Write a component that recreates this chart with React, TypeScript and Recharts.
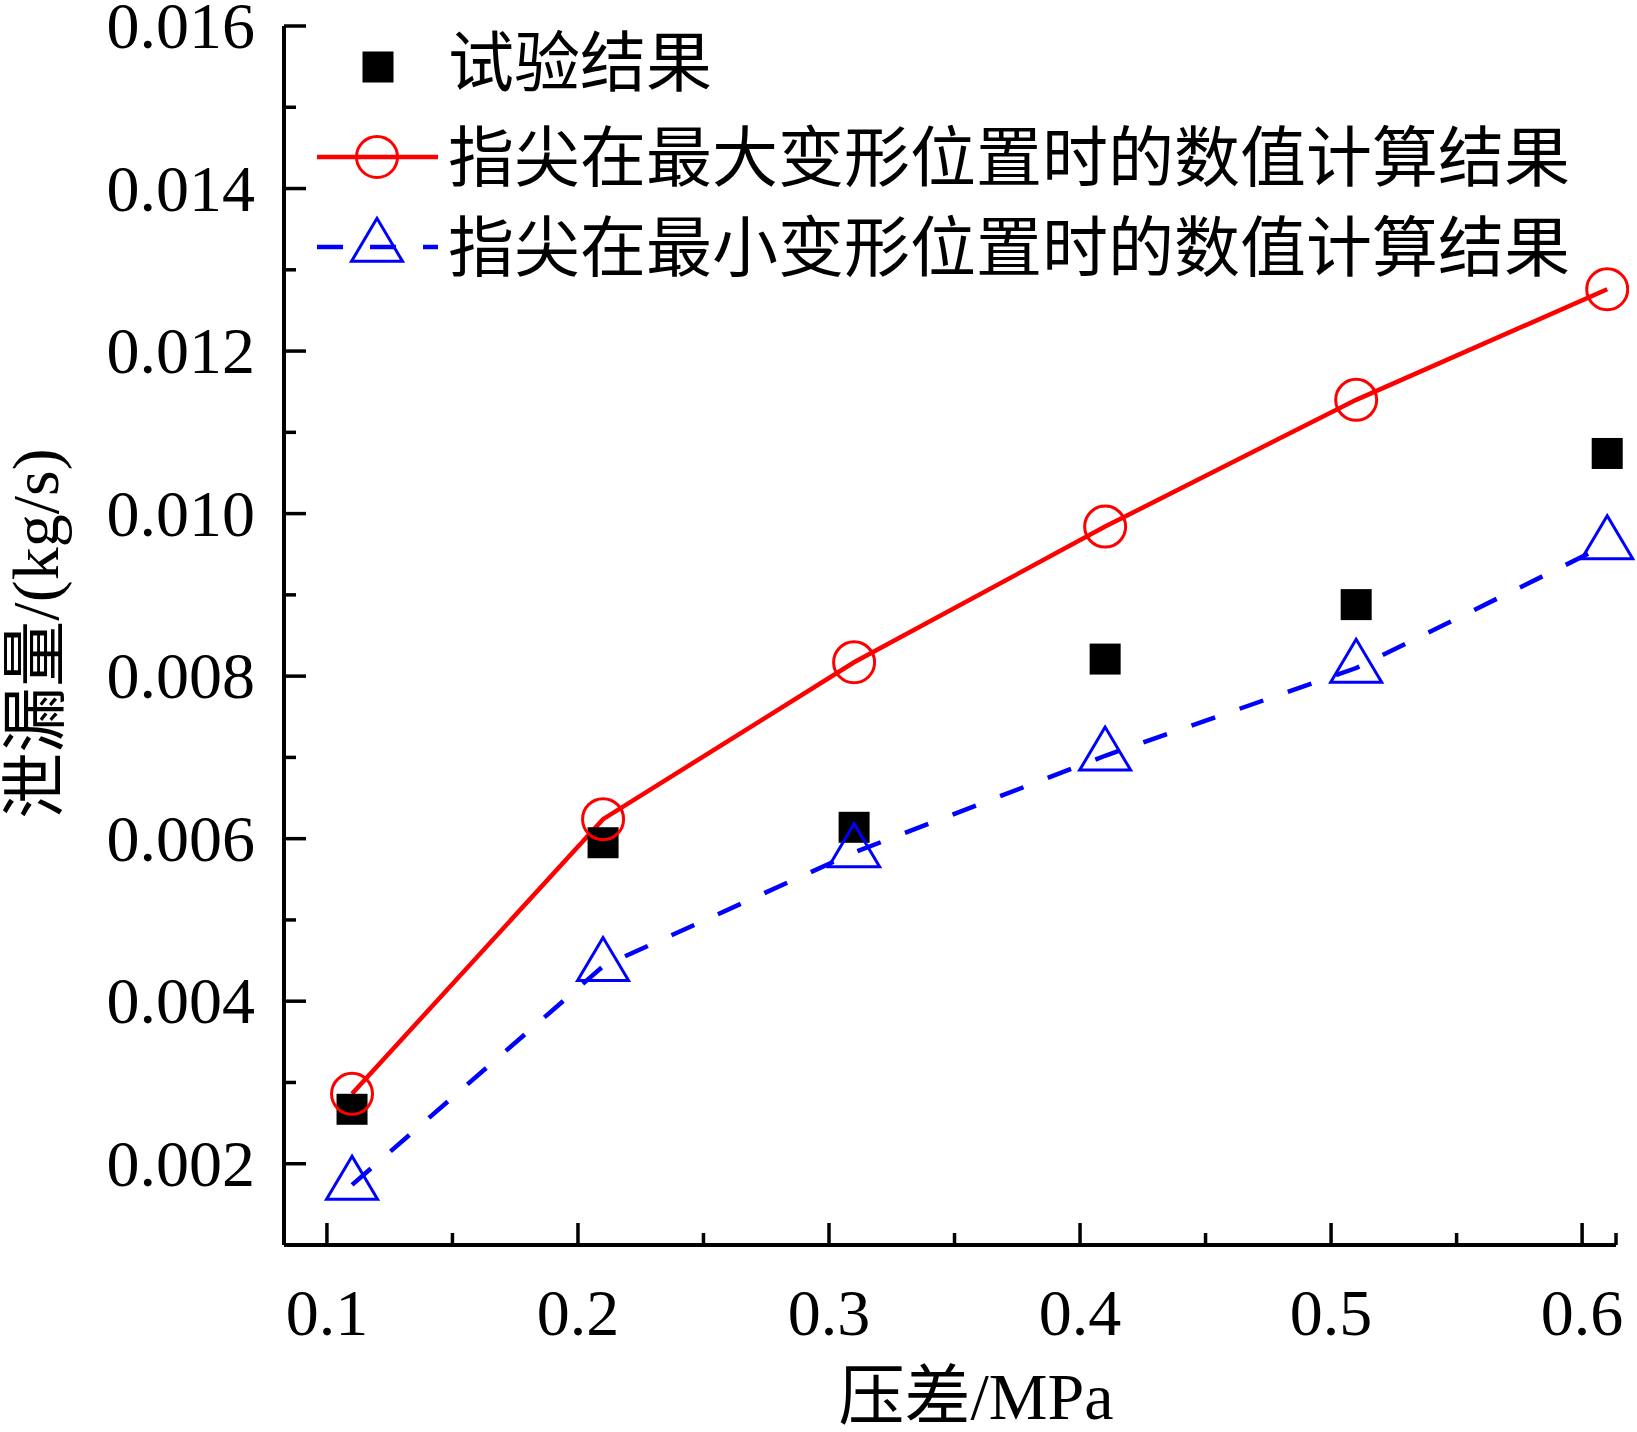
import { ComposedChart, Line, XAxis, YAxis, Legend } from "recharts";

// 压差 (MPa) and leakage (kg/s)
const pressure = [0.11, 0.21, 0.31, 0.41, 0.51, 0.61];
const testResult = [0.00267, 0.00595, 0.00614, 0.00821, 0.00888, 0.01074];
const maxDeform = [0.00286, 0.00624, 0.00817, 0.00984, 0.0114, 0.01276];
const minDeform = [0.00174, 0.00443, 0.00583, 0.00702, 0.0081, 0.00962];

const seriesNames = [
  "试验结果",
  "指尖在最大变形位置时的数值计算结果",
  "指尖在最小变形位置时的数值计算结果",
];

const xMajorTicks = [0.1, 0.2, 0.3, 0.4, 0.5, 0.6];
const xMinorTicks = [0.15, 0.25, 0.35, 0.45, 0.55, 0.6135];
const yMajorTicks = [0.002, 0.004, 0.006, 0.008, 0.01, 0.012, 0.014, 0.016];
const yMinorTicks = [0.003, 0.005, 0.007, 0.009, 0.011, 0.013, 0.015];
const xDomain: [number, number] = [0.0829, 0.6135];
const yDomain: [number, number] = [0.001, 0.016];

const xTitle = "压差/MPa";
const yTitle = "泄漏量/(kg/s)";

const data = pressure.map((p, i) => ({
  p,
  test: testResult[i],
  max: maxDeform[i],
  min: minDeform[i],
}));

const FONT = '"Liberation Serif", "Times New Roman", "Noto Sans CJK SC", serif';
const RED = "#ff0000";
const BLUE = "#0000ff";

const isIn = (v: number, list: number[]) => list.some((t) => Math.abs(t - v) < 1e-9);

function XTick(props: any) {
  const { x, y, payload } = props;
  const major = isIn(payload.value, xMajorTicks);
  return (
    <g>
      <line x1={x} x2={x} y1={y} y2={y - (major ? 22 : 12)} stroke="#000" strokeWidth={3.5} />
      {major && (
        <text x={x} y={y + 90} textAnchor="middle" fontSize={66} fontFamily={FONT} fill="#000">
          {payload.value.toFixed(1)}
        </text>
      )}
    </g>
  );
}

function YTick(props: any) {
  const { x, y, payload } = props;
  const major = isIn(payload.value, yMajorTicks);
  return (
    <g>
      <line x1={x} x2={x + (major ? 22 : 12)} y1={y} y2={y} stroke="#000" strokeWidth={3.5} />
      {major && (
        <text x={x - 29} y={y + 22} textAnchor="end" fontSize={66} fontFamily={FONT} fill="#000">
          {payload.value.toFixed(3)}
        </text>
      )}
    </g>
  );
}

function Square({ cx, cy, size = 31 }: { cx: number; cy: number; size?: number }) {
  return <rect x={cx - size / 2} y={cy - size / 2} width={size} height={size} fill="#000" />;
}

function Circle({ cx, cy }: { cx: number; cy: number }) {
  return <circle cx={cx} cy={cy} r={20.5} fill="none" stroke={RED} strokeWidth={3} />;
}

function Triangle({ cx, cy }: { cx: number; cy: number }) {
  const w = 51;
  const h = 43;
  const pts = `${cx},${cy - (2 * h) / 3} ${cx - w / 2},${cy + h / 3} ${cx + w / 2},${cy + h / 3}`;
  return <polygon points={pts} fill="none" stroke={BLUE} strokeWidth={3} />;
}

function LegendBox() {
  const rows = [67, 157, 247];
  return (
    <svg width={1637} height={300} style={{ display: "block", pointerEvents: "none" }}>
      <Square cx={378} cy={rows[0]} />
      <line x1={317} x2={438} y1={rows[1]} y2={rows[1]} stroke={RED} strokeWidth={4.5} />
      <Circle cx={377} cy={rows[1]} />
      <line
        x1={317}
        x2={438}
        y1={rows[2]}
        y2={rows[2]}
        stroke={BLUE}
        strokeWidth={4.5}
        strokeDasharray="26 27"
      />
      <Triangle cx={377} cy={rows[2]} />
      {seriesNames.map((name, i) => (
        <text
          key={name}
          x={448}
          y={rows[i] + (i === 0 ? 19 : 24)}
          fontSize={66}
          fontFamily={FONT}
          fill="#000"
        >
          {name}
        </text>
      ))}
    </svg>
  );
}

export default function App() {
  return (
    <div
      style={{
        position: "absolute",
        left: 0,
        top: 0,
        width: 1637,
        height: 1432,
        background: "#fff",
      }}
    >
      <ComposedChart
        width={1637}
        height={1432}
        data={data}
        margin={{ top: 26, right: 21, bottom: 0, left: 0 }}
      >
        <XAxis
          dataKey="p"
          type="number"
          domain={xDomain}
          ticks={[...xMajorTicks, ...xMinorTicks].sort((a, b) => a - b)}
          interval={0}
          tick={<XTick />}
          tickLine={false}
          tickSize={0}
          tickMargin={0}
          height={187}
          axisLine={{ stroke: "#000", strokeWidth: 4 }}
          label={(p: any) => {
            const vb = p.viewBox || { x: 284, y: 1245, width: 1332 };
            return (
              <text
                x={vb.x + vb.width / 2 + 26}
                y={vb.y + 174}
                textAnchor="middle"
                fontSize={66}
                fontFamily={FONT}
                fill="#000"
              >
                {xTitle}
              </text>
            );
          }}
        />
        <YAxis
          type="number"
          domain={yDomain}
          ticks={[...yMajorTicks, ...yMinorTicks].sort((a, b) => a - b)}
          interval={0}
          tick={<YTick />}
          tickLine={false}
          tickSize={0}
          tickMargin={0}
          width={284}
          axisLine={{ stroke: "#000", strokeWidth: 4 }}
          label={(p: any) => {
            const vb = p.viewBox || { x: 0, y: 26, width: 284, height: 1219 };
            const cy = vb.y + vb.height / 2 - 2;
            return (
              <text
                x={58}
                y={cy}
                transform={`rotate(-90, 58, ${cy})`}
                textAnchor="middle"
                fontSize={66}
                fontFamily={FONT}
                fill="#000"
              >
                {yTitle}
              </text>
            );
          }}
        />
        <Legend
          content={() => <LegendBox />}
          layout="horizontal"
          verticalAlign="middle"
          align="center"
          wrapperStyle={{ position: "absolute", top: 0, left: 0, width: 1637, height: 300 }}
        />
        <Line
          dataKey="test"
          name={seriesNames[0]}
          stroke="none"
          isAnimationActive={false}
          activeDot={false}
          dot={(p: any) => <Square key={`sq-${p.index}`} cx={p.cx} cy={p.cy} />}
        />
        <Line
          type="linear"
          dataKey="max"
          name={seriesNames[1]}
          stroke={RED}
          strokeWidth={4.5}
          isAnimationActive={false}
          activeDot={false}
          dot={(p: any) => <Circle key={`ci-${p.index}`} cx={p.cx} cy={p.cy} />}
        />
        <Line
          type="linear"
          dataKey="min"
          name={seriesNames[2]}
          stroke={BLUE}
          strokeWidth={4.5}
          strokeDasharray="25 26"
          isAnimationActive={false}
          activeDot={false}
          dot={(p: any) => <Triangle key={`tr-${p.index}`} cx={p.cx} cy={p.cy} />}
        />
      </ComposedChart>
    </div>
  );
}
